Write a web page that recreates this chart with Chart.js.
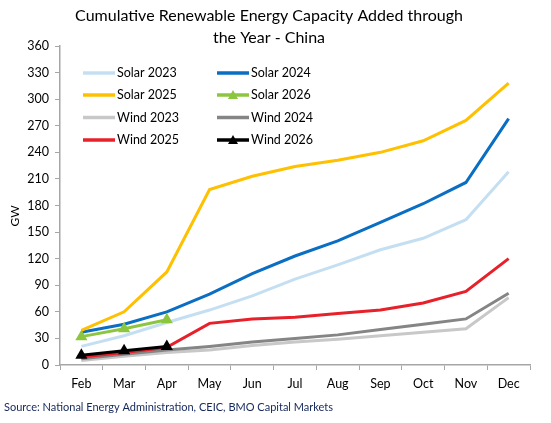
<!DOCTYPE html>
<html>
<head>
<meta charset="utf-8">
<script src="https://cdn.jsdelivr.net/npm/chart.js@4"></script>
<style>
    html, body { margin: 0; padding: 0; background: #fff; }
    #wrap { width: 551px; height: 423px; }
</style>
</head>
<body>
<div id="wrap"><canvas id="chart" width="551" height="423"></canvas></div>
<script>
// Chart data
const months = ['Feb', 'Mar', 'Apr', 'May', 'Jun', 'Jul', 'Aug', 'Sep', 'Oct', 'Nov', 'Dec'];
const yTicks = [0, 30, 60, 90, 120, 150, 180, 210, 240, 270, 300, 330, 360];

const solar2023 = [21, 33, 48, 62, 78, 97, 113, 130, 143, 164, 218];
const solar2024 = [37, 46, 60, 80, 103, 123, 140, 161, 182, 206, 278];
const solar2025 = [39, 60, 105, 198, 213, 224, 231, 240, 253, 276, 318];
const solar2026 = [32, 41, 51];
const wind2023 = [5, 10, 14, 17, 22, 26, 29, 33, 37, 41, 76];
const wind2024 = [7, 12, 17, 21, 26, 30, 34, 40, 46, 52, 81];
const wind2025 = [9, 14, 20, 47, 52, 54, 58, 62, 70, 83, 120];
const wind2026 = [11, 16, 21];

const FONT = 'Lato, "Open Sans", sans-serif';

// Build one line dataset
function series(label, data, color, order, marker) {
    return {
        label: label,
        data: data,
        borderColor: color,
        backgroundColor: color,
        borderWidth: 3,
        tension: 0,
        order: order,
        pointStyle: marker ? 'triangle' : 'circle',
        pointRadius: marker ? 7 : 0,
        pointHoverRadius: marker ? 7 : 0,
        pointBorderWidth: 0
    };
}

// Legend drawn in two columns inside the plot
const legendGrid = {
    id: 'legendGrid',
    afterDraw(chart) {
        const ctx = chart.ctx;
        const cols = [83, 217];
        const rowY = [73, 95, 117.5, 140];
        ctx.save();
        ctx.font = '12.5px ' + FONT;
        ctx.textBaseline = 'middle';
        ctx.fillStyle = '#000';
        chart.data.datasets.forEach((ds, i) => {
            const x = cols[i % 2];
            const y = rowY[Math.floor(i / 2)];
            ctx.strokeStyle = ds.borderColor;
            ctx.lineWidth = 3.5;
            ctx.beginPath();
            ctx.moveTo(x, y);
            ctx.lineTo(x + 32, y);
            ctx.stroke();
            if (ds.pointStyle === 'triangle') {
                ctx.fillStyle = ds.borderColor;
                ctx.beginPath();
                ctx.moveTo(x + 16, y - 5);
                ctx.lineTo(x + 21, y + 4);
                ctx.lineTo(x + 11, y + 4);
                ctx.closePath();
                ctx.fill();
            }
            ctx.fillStyle = '#000';
            ctx.fillText(ds.label, x + 34, y);
        });
        ctx.restore();
    }
};

// Title, axis name and source note
const textBits = {
    id: 'textBits',
    afterDraw(chart) {
        const ctx = chart.ctx;
        ctx.save();
        ctx.fillStyle = '#000';
        ctx.textAlign = 'center';
        ctx.textBaseline = 'middle';
        ctx.font = '16px ' + FONT;
        ctx.fillText('Cumulative Renewable Energy Capacity Added through', 269, 16);
        ctx.fillText('the Year - China', 269, 38);

        ctx.font = '12px ' + FONT;
        ctx.translate(15, 216);
        ctx.rotate(-Math.PI / 2);
        ctx.fillText('GW', 0, 0);
        ctx.restore();

        ctx.save();
        ctx.font = '11px ' + FONT;
        ctx.fillStyle = '#14275a';
        ctx.textAlign = 'left';
        ctx.textBaseline = 'middle';
        ctx.fillText('Source: National Energy Administration, CEIC, BMO Capital Markets', 4, 407);
        ctx.restore();
    }
};

new Chart(document.getElementById('chart'), {
    type: 'line',
    data: {
        labels: months,
        datasets: [
            series('Solar 2023', solar2023, '#c5dff2', 5, false),
            series('Solar 2024', solar2024, '#0a6fc2', 4, false),
            series('Solar 2025', solar2025, '#ffc000', 3, false),
            series('Solar 2026', solar2026, '#8cc63f', 1, true),
            series('Wind 2023', wind2023, '#c8c8c8', 7, false),
            series('Wind 2024', wind2024, '#858585', 6, false),
            series('Wind 2025', wind2025, '#e8202a', 2, false),
            series('Wind 2026', wind2026, '#000000', 0, true)
        ]
    },
    options: {
        responsive: false,
        animation: false,
        layout: {
            padding: { top: 46, right: 21, bottom: 0, left: 0 }
        },
        plugins: {
            legend: { display: false },
            title: { display: false },
            tooltip: { enabled: false }
        },
        scales: {
            x: {
                offset: true,
                afterFit(scale) { scale.height = 58; },
                grid: {
                    offset: true,
                    drawOnChartArea: false,
                    drawTicks: true,
                    tickLength: 5,
                    color: '#a6a6a6'
                },
                border: { color: '#a6a6a6', width: 1.5 },
                ticks: {
                    color: '#000',
                    padding: 6,
                    font: { family: FONT, size: 12.5 }
                }
            },
            y: {
                min: 0,
                max: 360,
                afterFit(scale) { scale.width = 60; },
                afterBuildTicks(scale) {
                    scale.ticks = yTicks.map(v => ({ value: v }));
                },
                grid: {
                    drawOnChartArea: false,
                    drawTicks: true,
                    tickLength: 5,
                    color: '#a6a6a6'
                },
                border: { color: '#a6a6a6', width: 1.5 },
                ticks: {
                    color: '#000',
                    padding: 6,
                    font: { family: FONT, size: 12.5 }
                }
            }
        }
    },
    plugins: [legendGrid, textBits]
});
</script>
</body>
</html>
